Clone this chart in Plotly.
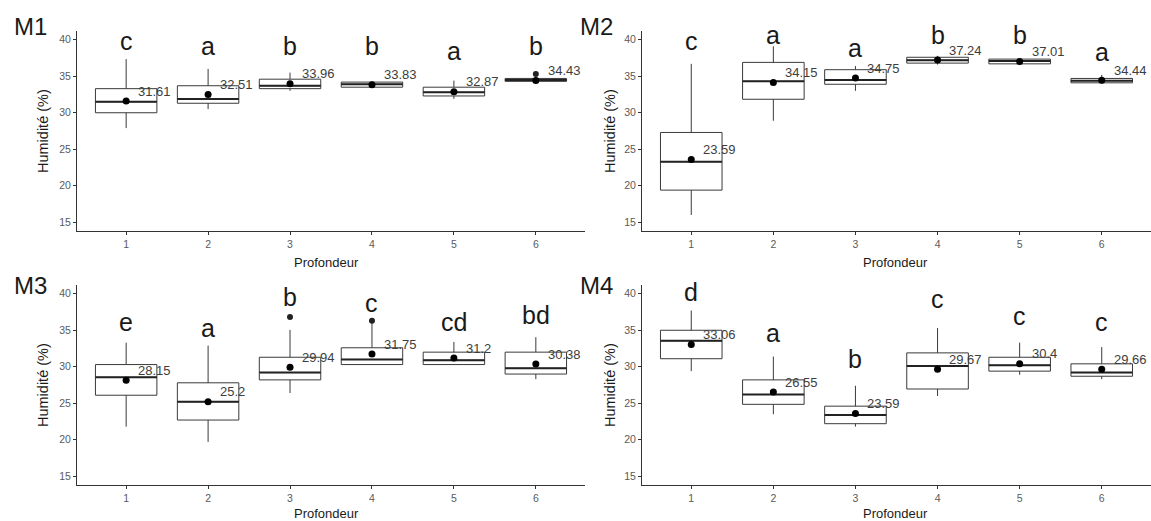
import plotly.graph_objects as go

categories = [1, 2, 3, 4, 5, 6]
tick_labels = ["1", "2", "3", "4", "5", "6"]
panel_names = ["M1", "M2", "M3", "M4"]

# M1
m1_lo = [27.9, 30.5, 33.0, 33.4, 31.9, 34.3]
m1_q1 = [30.0, 31.3, 33.3, 33.5, 32.3, 34.3]
m1_med = [31.5, 31.9, 33.7, 33.9, 32.8, 34.5]
m1_q3 = [33.3, 33.7, 34.6, 34.2, 33.5, 34.7]
m1_hi = [37.35, 36.0, 35.5, 34.3, 34.4, 34.8]
m1_mean = [31.61, 32.51, 33.96, 33.83, 32.87, 34.43]
m1_out_x = [6]
m1_out_y = [35.3]
m1_letters = ["c", "a", "b", "b", "a", "b"]
m1_letter_y = [39.8, 39.1, 39.1, 39.1, 38.4, 39.1]

# M2
m2_lo = [16.0, 28.9, 33.0, 36.6, 36.6, 34.0]
m2_q1 = [19.4, 31.85, 33.9, 36.8, 36.7, 34.1]
m2_med = [23.3, 34.3, 34.5, 37.2, 37.1, 34.4]
m2_q3 = [27.3, 36.9, 35.9, 37.6, 37.35, 34.7]
m2_hi = [36.7, 39.1, 36.4, 37.8, 37.4, 35.2]
m2_mean = [23.59, 34.15, 34.75, 37.24, 37.01, 34.44]
m2_out_x = []
m2_out_y = []
m2_letters = ["c", "a", "a", "b", "b", "a"]
m2_letter_y = [39.8, 40.7, 38.9, 40.7, 40.7, 38.3]

# M3
m3_lo = [21.8, 19.7, 26.4, 30.3, 30.3, 28.3]
m3_q1 = [26.1, 22.7, 28.2, 30.3, 30.3, 29.0]
m3_med = [28.55, 25.2, 29.2, 31.0, 30.9, 29.8]
m3_q3 = [30.3, 27.8, 31.3, 32.6, 32.0, 32.0]
m3_hi = [33.3, 32.9, 35.05, 36.0, 33.4, 34.05]
m3_mean = [28.15, 25.2, 29.94, 31.75, 31.2, 30.38]
m3_out_x = [3, 4]
m3_out_y = [36.8, 36.3]
m3_letters = ["e", "a", "b", "c", "cd", "bd"]
m3_letter_y = [36.1, 35.3, 39.5, 38.7, 36.2, 37.1]

# M4
m4_lo = [29.4, 23.5, 21.8, 26.0, 28.9, 28.3]
m4_q1 = [31.1, 24.85, 22.2, 26.95, 29.4, 28.7]
m4_med = [33.55, 26.2, 23.4, 30.1, 30.2, 29.2]
m4_q3 = [35.0, 28.2, 24.6, 31.9, 31.3, 30.4]
m4_hi = [37.7, 31.4, 27.4, 35.3, 33.3, 32.7]
m4_mean = [33.06, 26.55, 23.59, 29.67, 30.4, 29.66]
m4_out_x = []
m4_out_y = []
m4_letters = ["d", "a", "b", "c", "c", "c"]
m4_letter_y = [40.2, 34.6, 31.1, 39.3, 36.9, 36.1]

panels = [
    (m1_lo, m1_q1, m1_med, m1_q3, m1_hi, m1_mean, m1_out_x, m1_out_y, m1_letters, m1_letter_y),
    (m2_lo, m2_q1, m2_med, m2_q3, m2_hi, m2_mean, m2_out_x, m2_out_y, m2_letters, m2_letter_y),
    (m3_lo, m3_q1, m3_med, m3_q3, m3_hi, m3_mean, m3_out_x, m3_out_y, m3_letters, m3_letter_y),
    (m4_lo, m4_q1, m4_med, m4_q3, m4_hi, m4_mean, m4_out_x, m4_out_y, m4_letters, m4_letter_y),
]

W, H = 1151, 521
FONT = "Liberation Sans, Arial, sans-serif"
x_domains = [[77 / W, 585 / W], [642 / W, 1.0], [77 / W, 585 / W], [642 / W, 1.0]]
y_domains = [[1 - 231 / H, 1 - 31 / H], [1 - 231 / H, 1 - 31 / H],
             [1 - 485 / H, 1 - 285 / H], [1 - 485 / H, 1 - 285 / H]]
BOXW = 0.75
LINE = "#3a3a3a"

fig = go.Figure()
annotations = []
layout_axes = {}

for i, (lo, q1, med, q3, hi, mean, ox, oy, letters, ly) in enumerate(panels):
    n = i + 1
    xa = "x" if n == 1 else f"x{n}"
    ya = "y" if n == 1 else f"y{n}"
    fig.add_trace(go.Box(
        x=categories, lowerfence=lo, q1=q1, median=med, q3=q3, upperfence=hi,
        width=BOXW, whiskerwidth=0, fillcolor="white",
        line=dict(color=LINE, width=1), boxpoints=False,
        xaxis=xa, yaxis=ya, showlegend=False, hoverinfo="skip",
    ))
    # thicker median lines
    for c, m in zip(categories, med):
        fig.add_trace(go.Scatter(
            x=[c - BOXW / 2, c + BOXW / 2], y=[m, m], mode="lines",
            line=dict(color="#222222", width=2), xaxis=xa, yaxis=ya,
            showlegend=False, hoverinfo="skip"))
    if ox:
        fig.add_trace(go.Scatter(
            x=ox, y=oy, mode="markers", marker=dict(color="#222222", size=6),
            xaxis=xa, yaxis=ya, showlegend=False, hoverinfo="skip"))
    fig.add_trace(go.Scatter(
        x=categories, y=mean, mode="markers", marker=dict(color="black", size=7),
        xaxis=xa, yaxis=ya, showlegend=False, hoverinfo="skip"))
    for c, m in zip(categories, mean):
        annotations.append(dict(
            x=c + 0.12, y=m + 1.35, xref=xa, yref=ya, text=f"{m:g}",
            showarrow=False, xanchor="left", yanchor="middle",
            font=dict(family=FONT, size=13, color="#3d3d3d")))
    for c, lt, yy in zip(categories, letters, ly):
        annotations.append(dict(
            x=c, y=yy, xref=xa, yref=ya, text=lt, showarrow=False,
            xanchor="center", yanchor="middle",
            font=dict(family=FONT, size=25, color="#1a1a1a")))

    axis_common = dict(showgrid=False, zeroline=False, showline=True,
                       linecolor="#333333", linewidth=1, ticks="outside",
                       ticklen=3, tickcolor="#333333",
                       tickfont=dict(family=FONT, size=10.5, color="#5a5a5a"))
    layout_axes["xaxis" if n == 1 else f"xaxis{n}"] = dict(
        domain=x_domains[i], range=[0.4, 6.6], tickvals=categories,
        ticktext=tick_labels, anchor=ya, **axis_common)
    layout_axes["yaxis" if n == 1 else f"yaxis{n}"] = dict(
        domain=y_domains[i], range=[13.8, 41.2], tickvals=[15, 20, 25, 30, 35, 40],
        anchor=xa, **axis_common)

    # panel label
    px_left = 12 if n in (1, 3) else 578
    py_mid = 27 if n in (1, 2) else 285
    annotations.append(dict(
        x=px_left / W, y=1 - py_mid / H, xref="paper", yref="paper", text=panel_names[i],
        showarrow=False, xanchor="left", yanchor="middle",
        font=dict(family=FONT, size=24, color="#1a1a1a")))
    # y axis title
    ytx = 43 if n in (1, 3) else 610
    yty = 131 if n in (1, 2) else 385
    annotations.append(dict(
        x=ytx / W, y=1 - yty / H, xref="paper", yref="paper", text="Humidité (%)",
        showarrow=False, textangle=-90, xanchor="center", yanchor="middle",
        font=dict(family=FONT, size=14.5, color="#1a1a1a")))
    # x axis title
    xtx = 326 if n in (1, 3) else 895
    xty = 262 if n in (1, 2) else 513
    annotations.append(dict(
        x=xtx / W, y=1 - xty / H, xref="paper", yref="paper", text="Profondeur",
        showarrow=False, xanchor="center", yanchor="middle",
        font=dict(family=FONT, size=13, color="#1a1a1a")))

fig.update_layout(
    width=W, height=H, margin=dict(l=0, r=0, t=0, b=0),
    paper_bgcolor="white", plot_bgcolor="white",
    annotations=annotations, showlegend=False, **layout_axes)

fig.write_html("out.html", config={"displayModeBar": False},
               post_script="document.body.style.margin='0';document.body.style.overflow='hidden';")
